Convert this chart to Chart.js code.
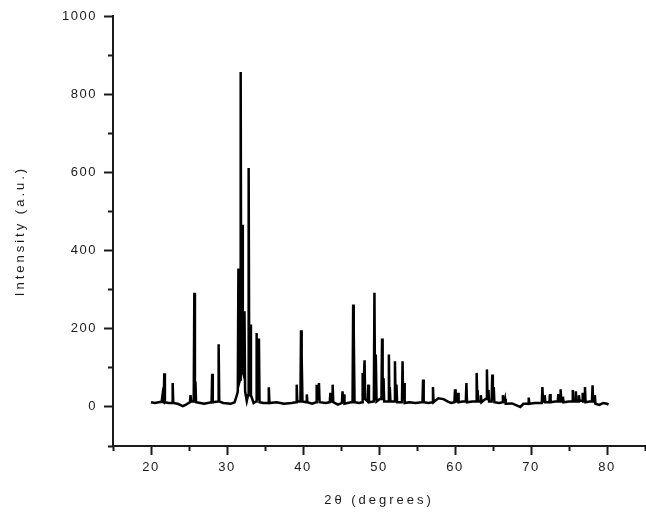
<!DOCTYPE html>
<html>
<head>
<meta charset="utf-8">
<script src="https://cdn.jsdelivr.net/npm/chart.js@4.4.1/dist/chart.umd.min.js"></script>
<style>
  html, body { margin: 0; padding: 0; background: #fff; }
  canvas { display: block; }
</style>
</head>
<body>
<canvas id="myChart" width="646" height="512"></canvas>
<script>
// XRD pattern (2theta in degrees, intensity in a.u.)
const twoTheta = [
  20.0, 20.5, 21.0, 21.4, 21.5, 21.6, 21.67, 21.75,
  21.83, 22.3, 22.77, 22.85, 22.93, 23.5, 24.2, 24.6,
  25.12, 25.2, 25.28, 25.62, 25.7, 25.78, 25.85, 25.93,
  26.5, 27.0, 27.97, 28.05, 28.13, 28.82, 28.9, 28.98,
  29.5, 30.5, 31.0, 31.3, 31.42, 31.5, 31.58, 31.72,
  31.8, 31.88, 31.94, 32.0, 32.08, 32.22, 32.3, 32.38,
  32.6, 32.77, 32.85, 32.93, 33.0, 33.07, 33.15, 33.5,
  33.82, 33.9, 33.98, 34.12, 34.2, 34.28, 34.8, 35.42,
  35.5, 35.58, 36.5, 37.5, 38.5, 39.09, 39.17, 39.25,
  39.66, 39.74, 39.8, 39.85, 39.93, 40.42, 40.5, 40.58,
  41.2, 41.72, 41.8, 41.9, 42.02, 42.1, 42.18, 43.0,
  43.52, 43.6, 43.68, 43.82, 43.9, 43.98, 44.6, 45.12,
  45.2, 45.28, 45.35, 45.4, 45.46, 46.3, 46.52, 46.6,
  46.65, 46.7, 46.78, 47.4, 47.77, 47.85, 47.93, 48.02,
  48.1, 48.18, 48.52, 48.6, 48.68, 49.32, 49.4, 49.48,
  49.55, 49.6, 49.68, 50.1, 50.32, 50.4, 50.48, 50.53,
  50.6, 50.68, 51.22, 51.3, 51.36, 51.42, 51.5, 52.02,
  52.1, 52.18, 52.24, 52.3, 52.38, 53.02, 53.1, 53.18,
  53.24, 53.3, 53.38, 54.0, 54.8, 55.72, 55.8, 55.88,
  56.5, 57.02, 57.1, 57.18, 57.8, 58.5, 59.0, 59.5,
  59.92, 60.0, 60.08, 60.32, 60.4, 60.48, 61.0, 61.42,
  61.5, 61.58, 62.3, 62.77, 62.85, 62.92, 62.97, 63.05,
  63.32, 63.4, 63.48, 64.0, 64.12, 64.2, 64.28, 64.34,
  64.4, 64.48, 64.82, 64.9, 64.98, 65.04, 65.1, 65.18,
  65.8, 66.22, 66.3, 66.38, 66.52, 66.6, 66.68, 67.5,
  68.6, 69.0, 69.62, 69.7, 69.78, 70.5, 71.42, 71.5,
  71.58, 71.72, 71.8, 71.88, 72.42, 72.5, 72.58, 73.2,
  73.52, 73.6, 73.68, 73.82, 73.9, 73.98, 74.12, 74.2,
  74.28, 75.0, 75.42, 75.5, 75.58, 75.82, 75.9, 75.98,
  76.22, 76.3, 76.38, 76.72, 76.8, 76.88, 77.02, 77.1,
  77.18, 77.7, 78.02, 78.1, 78.18, 78.32, 78.4, 78.48,
  79.0, 79.5, 80.0, 80.2
];
const intensity = [
  12, 10, 12, 13, 28, 13, 12, 86,
  12, 10, 10, 61, 10, 8, 2, 6,
  12, 30, 14, 14, 292, 20, 65, 12,
  10, 8, 12, 85, 12, 14, 160, 14,
  10, 8, 12, 30, 40, 354, 60, 70,
  857, 100, 150, 466, 90, 80, 245, 40,
  15, 30, 611, 40, 40, 211, 30, 10,
  14, 189, 20, 20, 175, 12, 10, 10,
  50, 10, 12, 8, 10, 12, 57, 14,
  14, 196, 40, 128, 14, 12, 32, 12,
  8, 12, 57, 20, 20, 61, 12, 10,
  12, 36, 14, 14, 57, 12, 6, 10,
  40, 14, 14, 32, 8, 12, 12, 262,
  100, 200, 12, 10, 12, 87, 30, 30,
  119, 20, 14, 57, 12, 14, 292, 20,
  20, 134, 14, 20, 20, 175, 20, 20,
  73, 14, 14, 134, 30, 51, 14, 14,
  117, 20, 20, 57, 12, 12, 117, 20,
  20, 61, 10, 12, 10, 12, 70, 12,
  10, 12, 51, 12, 22, 20, 14, 10,
  12, 45, 14, 14, 36, 12, 14, 14,
  61, 12, 14, 14, 87, 30, 43, 14,
  14, 30, 12, 20, 20, 96, 20, 20,
  43, 14, 14, 83, 20, 20, 51, 12,
  10, 12, 30, 12, 12, 20, 8, 9,
  0, 8, 8, 24, 8, 10, 10, 51,
  14, 14, 30, 12, 12, 33, 12, 14,
  14, 33, 14, 14, 45, 14, 14, 26,
  12, 14, 14, 43, 14, 14, 40, 14,
  14, 30, 16, 16, 36, 14, 14, 51,
  12, 14, 14, 55, 14, 14, 30, 8,
  5, 10, 8, 6
];

const xMajor = [20, 30, 40, 50, 60, 70, 80];
const xMinor = [15, 25, 35, 45, 55, 65, 75, 85];
const yMajor = [0, 200, 400, 600, 800, 1000];
const yMinor = [-100, 100, 300, 500, 700, 900];

const INK = '#1a1a1a';
const tickFont = { family: 'Liberation Sans', size: 13 };

const setTicks = (list) => (scale) => {
  scale.ticks = list.map((v) => ({ value: v }));
};

// canvas letterSpacing is reset with the canvas, so set it again before layout and draw
const spacing = {
  id: 'spacing',
  beforeLayout(chart) {
    chart.ctx.letterSpacing = '1.5px';
    Object.values(chart.scales).forEach((s) => {
      if (s._wide) return;
      const drawTitle = s.drawTitle;
      s.drawTitle = function () {
        this.ctx.save();
        this.ctx.letterSpacing = '3px';
        drawTitle.call(this);
        this.ctx.restore();
      };
      s._wide = true;
    });
  },
  beforeDraw(chart) {
    chart.ctx.letterSpacing = '1.5px';
  },
};

const draw = () => {
  const points = twoTheta.map((t, i) => ({ x: t, y: intensity[i] }));

  const ctx = document.getElementById('myChart').getContext('2d');
  new Chart(ctx, {
    type: 'line',
    data: {
      datasets: [
        {
          data: points,
          borderColor: '#000',
          borderWidth: 2.5,
          pointRadius: 0,
          tension: 0,
          fill: false,
        },
      ],
    },
    options: {
      responsive: false,
      animation: false,
      layout: { padding: { left: 5, right: 1, top: 16, bottom: 0 } },
      plugins: { legend: { display: false }, tooltip: { enabled: false } },
      scales: {
        x: {
          type: 'linear',
          min: 15,
          max: 85,
          afterBuildTicks: setTicks(xMajor),
          afterFit: (s) => { s.height = 66; },
          border: { display: true, color: INK, width: 2 },
          grid: { drawOnChartArea: false, tickLength: 9, tickWidth: 2, tickColor: INK },
          ticks: { color: INK, font: tickFont, padding: 5, maxRotation: 0, callback: (v) => String(v) },
          title: {
            display: true,
            text: '2θ (degrees)',
            color: INK,
            font: { family: 'Liberation Sans', size: 13 },
            padding: { top: 0, bottom: 4 },
          },
        },
        y: {
          min: -100,
          max: 1000,
          afterBuildTicks: setTicks(yMajor),
          afterFit: (s) => { s.width = 108; },
          border: { display: true, color: INK, width: 2 },
          grid: { drawOnChartArea: false, tickLength: 9, tickWidth: 2, tickColor: INK },
          ticks: { color: INK, font: tickFont, padding: 7, callback: (v) => String(v) },
          title: {
            display: true,
            text: 'Intensity (a.u.)',
            color: INK,
            font: { family: 'Liberation Sans', size: 13 },
            padding: { top: 8, bottom: 0 },
          },
        },
        xMinor: {
          type: 'linear',
          axis: 'x',
          position: { y: -100 },
          min: 15,
          max: 85,
          afterBuildTicks: setTicks(xMinor),
          border: { display: false },
          grid: { drawOnChartArea: false, tickLength: 5, tickWidth: 2, tickColor: INK },
          ticks: { display: false },
        },
        yMinor: {
          type: 'linear',
          axis: 'y',
          position: { x: 15 },
          min: -100,
          max: 1000,
          afterBuildTicks: setTicks(yMinor),
          border: { display: false },
          grid: { drawOnChartArea: false, tickLength: 5, tickWidth: 2, tickColor: INK },
          ticks: { display: false },
        },
      },
    },
    plugins: [spacing],
  });
};

window.onload = () => {
  draw();
};
</script>
</body>
</html>
